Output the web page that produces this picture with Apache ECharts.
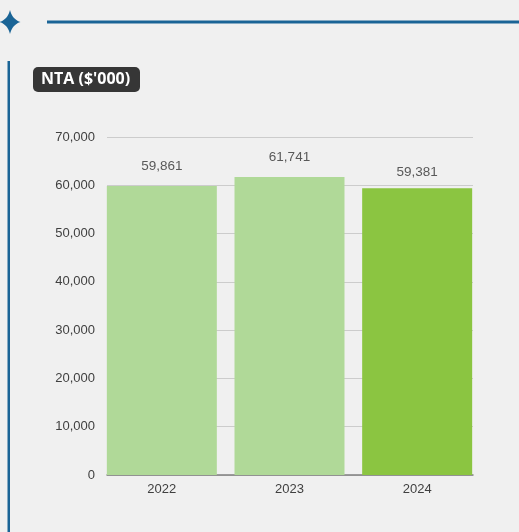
<!DOCTYPE html>
<html><head><meta charset="utf-8">
<script src="https://cdn.jsdelivr.net/npm/echarts@6/dist/echarts.min.js"></script>
<style>html,body{margin:0;padding:0;background:#f0f0f0;}#c{width:519px;height:532px;}</style>
</head><body><div id="c"></div>
<script>
var categories = ['2022', '2023', '2024'];
var ntaValues = [59861, 61741, 59381];
var barColors = ['#b0d998', '#b0d998', '#8bc541'];
var yTicks = [0, 10000, 20000, 30000, 40000, 50000, 60000, 70000];
var titleText = "NTA ($'000)";

function starPoints(cx, cy, rx, ry, k) {
  var tips = [[cx, cy - ry], [cx + rx, cy], [cx, cy + ry], [cx - rx, cy]];
  var pts = [];
  for (var i = 0; i < 4; i++) {
    var a = tips[i], b = tips[(i + 1) % 4];
    var c = [cx + (a[0] + b[0] - 2 * cx) * k, cy + (a[1] + b[1] - 2 * cy) * k];
    for (var t = 0; t < 1; t += 0.1) {
      var u = 1 - t;
      pts.push([u * u * a[0] + 2 * u * t * c[0] + t * t * b[0], u * u * a[1] + 2 * u * t * c[1] + t * t * b[1]]);
    }
  }
  return pts;
}

var chart = echarts.init(document.getElementById('c'), null, {renderer: 'canvas'});
var fmt = function (v) { return Number(v).toLocaleString('en-US'); };
var font = 'Liberation Sans, Arial, sans-serif';
var yMin = yTicks[0], yMax = yTicks[yTicks.length - 1];
chart.setOption({
  backgroundColor: '#f0f0f0',
  animation: false,
  grid: [
    {left: 107, right: 46, top: 137, bottom: 57},
    {left: 98, right: 38, top: 137, bottom: 57}
  ],
  xAxis: [
    {gridIndex: 0, type: 'category', data: categories,
      axisLine: {show: true, lineStyle: {color: '#7f7f7f', width: 1.5}},
      axisTick: {show: false}, axisLabel: {show: false}},
    {gridIndex: 1, type: 'category', data: categories,
      axisLine: {show: false}, axisTick: {show: false},
      axisLabel: {color: '#404040', fontSize: 13, fontFamily: font, margin: 8}}
  ],
  yAxis: [
    {gridIndex: 0, type: 'value', min: yMin, max: yMax, interval: 10000,
      axisLine: {show: false}, axisTick: {show: false},
      splitLine: {lineStyle: {color: '#cccccc', width: 1}},
      axisLabel: {color: '#404040', fontSize: 13, fontFamily: font, margin: 12, formatter: fmt}},
    {gridIndex: 1, type: 'value', min: yMin, max: yMax, interval: 10000, show: false,
      splitLine: {show: false}}
  ],
  series: [{
    type: 'bar', xAxisIndex: 1, yAxisIndex: 1,
    data: ntaValues.map(function (v, i) {
      var item = {value: v, itemStyle: {color: barColors[i]}};
      if (i === ntaValues.length - 1) item.label = {distance: 9};
      return item;
    }),
    barWidth: 110,
    label: {show: true, position: 'top', distance: 13, color: '#595959', fontSize: 13.5,
      fontFamily: font, formatter: function (p) { return fmt(p.value); }}
  }],
  graphic: [
    {type: 'polygon', shape: {points: starPoints(10, 22, 10.5, 12, 0.22)}, style: {fill: '#1a6496'}},
    {type: 'line', shape: {x1: 47, y1: 22, x2: 519, y2: 22}, style: {stroke: '#1a6496', lineWidth: 3}},
    {type: 'line', shape: {x1: 8.75, y1: 61, x2: 8.75, y2: 532}, style: {stroke: '#1a6496', lineWidth: 2.5}},
    {type: 'rect', shape: {x: 33, y: 67, width: 107, height: 25, r: 5}, style: {fill: '#363636'}},
    {type: 'text', x: 41, y: 79, style: {text: titleText, fill: '#ffffff', font: 'bold 16px "Open Sans", "Noto Sans", sans-serif',
      textAlign: 'left', textVerticalAlign: 'middle'}}
  ]
});
</script></body></html>
